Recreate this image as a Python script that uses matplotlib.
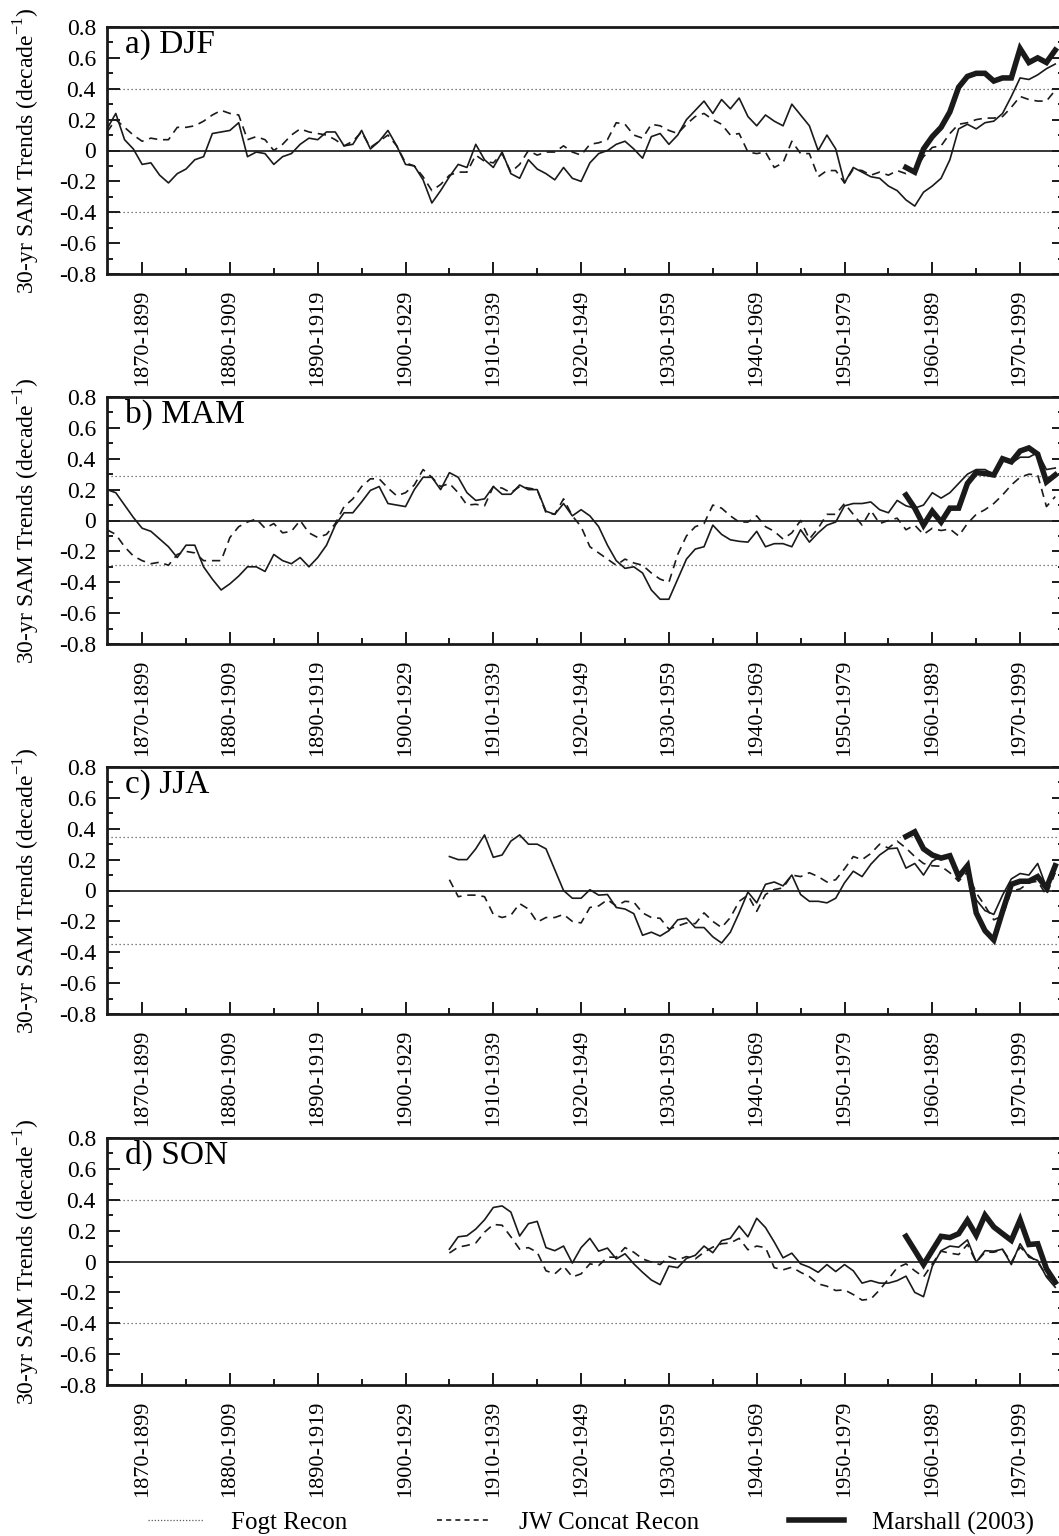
import matplotlib
matplotlib.use('Agg')
import matplotlib.pyplot as plt
from matplotlib.lines import Line2D
from matplotlib.ticker import MultipleLocator

# 30-yr running SAM trends (per decade), x = first year of the 30-yr window
years_long = list(range(1866, 1975))      # DJF, MAM
years_short = list(range(1905, 1975))     # JJA, SON
years_marshall = list(range(1957, 1975))

djf_fogt = [0.14, 0.24, 0.07, 0.01, -0.09, -0.08, -0.16, -0.21, -0.15, -0.12,
            -0.06, -0.04, 0.11, 0.12, 0.13, 0.18, -0.04, -0.01, -0.02, -0.09,
            -0.04, -0.02, 0.04, 0.08, 0.07, 0.12, 0.12, 0.03, 0.04, 0.13,
            0.01, 0.06, 0.13, 0.03, -0.09, -0.10, -0.19, -0.34, -0.26, -0.17,
            -0.09, -0.11, 0.04, -0.06, -0.11, -0.01, -0.15, -0.18, -0.06, -0.12,
            -0.15, -0.19, -0.11, -0.18, -0.20, -0.08, -0.02, 0.00, 0.04, 0.06,
            0.01, -0.05, 0.09, 0.11, 0.04, 0.10, 0.20, 0.26, 0.32, 0.24,
            0.33, 0.27, 0.34, 0.22, 0.16, 0.23, 0.19, 0.16, 0.30, 0.23,
            0.16, 0.00, 0.10, 0.01, -0.21, -0.11, -0.14, -0.17, -0.18, -0.23,
            -0.26, -0.32, -0.36, -0.27, -0.23, -0.18, -0.06, 0.14, 0.17, 0.14,
            0.18, 0.19, 0.24, 0.35, 0.47, 0.46, 0.49, 0.53, 0.56]
djf_jw = [0.12, 0.20, 0.15, 0.10, 0.06, 0.08, 0.07, 0.07, 0.15, 0.15,
          0.16, 0.19, 0.23, 0.26, 0.24, 0.23, 0.07, 0.09, 0.07, 0.00,
          0.04, 0.10, 0.14, 0.12, 0.11, 0.10, 0.07, 0.03, 0.06, 0.12,
          0.02, 0.06, 0.10, 0.03, -0.08, -0.10, -0.17, -0.26, -0.22, -0.16,
          -0.14, -0.14, -0.03, -0.07, -0.08, -0.02, -0.14, -0.09, 0.00, -0.03,
          -0.01, -0.01, 0.03, -0.01, -0.03, 0.04, 0.05, 0.07, 0.18, 0.17,
          0.10, 0.08, 0.17, 0.16, 0.13, 0.11, 0.17, 0.22, 0.24, 0.20,
          0.17, 0.10, 0.11, -0.01, -0.02, -0.01, -0.11, -0.08, 0.06, -0.02,
          -0.02, -0.17, -0.13, -0.13, -0.21, -0.12, -0.13, -0.16, -0.14, -0.16,
          -0.13, -0.15, -0.13, -0.04, 0.02, 0.03, 0.11, 0.17, 0.18, 0.20,
          0.21, 0.21, 0.22, 0.28, 0.35, 0.33, 0.32, 0.32, 0.39]
djf_marshall = [-0.11, -0.14, 0.01, 0.09, 0.15, 0.25, 0.41, 0.48, 0.50, 0.50,
                0.45, 0.47, 0.47, 0.66, 0.57, 0.60, 0.57, 0.65]

mam_fogt = [0.20, 0.18, 0.10, 0.02, -0.05, -0.07, -0.12, -0.17, -0.24, -0.16,
            -0.16, -0.30, -0.38, -0.45, -0.41, -0.36, -0.30, -0.30, -0.33, -0.22,
            -0.26, -0.28, -0.24, -0.30, -0.24, -0.16, -0.03, 0.05, 0.05, 0.12,
            0.195, 0.22, 0.11, 0.10, 0.09, 0.20, 0.28, 0.28, 0.20, 0.31,
            0.28, 0.18, 0.13, 0.14, 0.22, 0.17, 0.17, 0.23, 0.20, 0.20,
            0.06, 0.04, 0.11, 0.03, 0.07, 0.03, -0.04, -0.16, -0.26, -0.31,
            -0.30, -0.34, -0.45, -0.51, -0.51, -0.38, -0.25, -0.185, -0.17, -0.03,
            -0.09, -0.125, -0.135, -0.14, -0.07, -0.17, -0.15, -0.15, -0.17, -0.06,
            -0.14, -0.08, -0.03, -0.01, 0.095, 0.11, 0.11, 0.12, 0.07, 0.05,
            0.13, 0.095, 0.08, 0.10, 0.18, 0.145, 0.18, 0.24, 0.30, 0.33,
            0.33, 0.30, 0.39, 0.37, 0.41, 0.41, 0.44, 0.33, 0.34]
mam_jw = [-0.06, -0.09, -0.17, -0.23, -0.26, -0.28, -0.27, -0.29, -0.22, -0.20,
          -0.21, -0.26, -0.26, -0.26, -0.11, -0.04, -0.01, 0.01, -0.05, -0.02,
          -0.08, -0.07, 0.00, -0.08, -0.11, -0.09, -0.02, 0.09, 0.14, 0.22,
          0.27, 0.27, 0.21, 0.16, 0.18, 0.23, 0.33, 0.28, 0.22, 0.24,
          0.18, 0.10, 0.105, 0.095, 0.22, 0.21, 0.18, 0.22, 0.21, 0.20,
          0.05, 0.04, 0.14, 0.03, -0.04, -0.17, -0.21, -0.25, -0.29, -0.25,
          -0.275, -0.29, -0.34, -0.38, -0.40, -0.22, -0.10, -0.04, -0.02, 0.10,
          0.08, 0.03, -0.01, -0.01, 0.03, -0.04, -0.07, -0.12, -0.08, 0.00,
          -0.12, -0.05, 0.04, 0.04, 0.11, 0.04, -0.03, 0.065, -0.02, 0.00,
          0.015, -0.06, -0.03, -0.09, -0.05, -0.065, -0.055, -0.10, -0.02, 0.04,
          0.07, 0.11, 0.165, 0.23, 0.28, 0.30, 0.295, 0.09, 0.155]
mam_marshall = [0.165, 0.08, -0.03, 0.06, -0.01, 0.08, 0.08, 0.24, 0.31, 0.305,
                0.295, 0.40, 0.38, 0.45, 0.47, 0.43, 0.25, 0.295]

jja_fogt = [0.22, 0.20, 0.20, 0.27, 0.36, 0.215, 0.23, 0.32, 0.36, 0.30,
            0.30, 0.27, 0.135, 0.00, -0.05, -0.05, 0.005, -0.03, -0.026, -0.11,
            -0.12, -0.15, -0.29, -0.27, -0.295, -0.26, -0.19, -0.18, -0.24, -0.24,
            -0.30, -0.34, -0.27, -0.145, -0.01, -0.08, 0.04, 0.055, 0.03, 0.10,
            -0.026, -0.07, -0.07, -0.08, -0.05, 0.05, 0.125, 0.09, 0.17, 0.23,
            0.27, 0.275, 0.145, 0.175, 0.10, 0.19, 0.22, 0.22, 0.10, 0.135,
            -0.06, -0.13, -0.155, -0.03, 0.075, 0.11, 0.10, 0.175, 0.02, 0.135]
jja_jw = [0.07, -0.04, -0.03, -0.03, -0.04, -0.155, -0.175, -0.16, -0.085, -0.12,
          -0.205, -0.175, -0.175, -0.155, -0.20, -0.21, -0.11, -0.10, -0.06, -0.10,
          -0.07, -0.075, -0.145, -0.175, -0.18, -0.25, -0.23, -0.21, -0.215, -0.145,
          -0.20, -0.24, -0.175, -0.07, -0.03, -0.135, -0.026, 0.006, 0.017, 0.10,
          0.09, 0.115, 0.09, 0.055, 0.07, 0.14, 0.22, 0.20, 0.24, 0.30,
          0.275, 0.32, 0.275, 0.22, 0.175, 0.16, 0.157, 0.115, 0.06, 0.12,
          -0.015, -0.10, -0.19, -0.165, -0.004, 0.01, 0.05, 0.06, -0.03, 0.115]
jja_marshall = [0.35, 0.38, 0.27, 0.23, 0.21, 0.225, 0.09, 0.16, -0.145, -0.26,
                -0.32, -0.135, 0.04, 0.06, 0.06, 0.09, 0.017, 0.16]

son_fogt = [0.08, 0.16, 0.167, 0.21, 0.27, 0.35, 0.36, 0.32, 0.165, 0.245,
            0.26, 0.09, 0.07, 0.10, -0.01, 0.09, 0.15, 0.067, 0.087, 0.017,
            0.05, -0.015, -0.07, -0.12, -0.15, -0.03, -0.04, 0.02, 0.04, 0.10,
            0.057, 0.135, 0.15, 0.23, 0.16, 0.28, 0.22, 0.126, 0.024, 0.054,
            -0.015, -0.037, -0.07, -0.02, -0.065, -0.02, -0.06, -0.14, -0.124, -0.14,
            -0.14, -0.124, -0.095, -0.20, -0.228, -0.03, 0.07, 0.10, 0.093, 0.14,
            -0.004, 0.07, 0.067, 0.08, -0.02, 0.115, 0.028, 0.007, -0.10, -0.167]
son_jw = [0.055, 0.093, 0.104, 0.12, 0.19, 0.24, 0.235, 0.16, 0.08, 0.09,
          0.06, -0.06, -0.08, -0.03, -0.10, -0.08, -0.015, -0.026, 0.028, 0.028,
          0.09, 0.06, 0.017, -0.004, -0.02, 0.032, 0.01, 0.032, 0.017, 0.06,
          0.093, 0.115, 0.12, 0.15, 0.076, 0.10, 0.09, -0.04, -0.054, -0.037,
          -0.07, -0.098, -0.145, -0.16, -0.188, -0.184, -0.214, -0.25, -0.243, -0.184,
          -0.113, -0.04, -0.015, -0.06, -0.10, -0.015, 0.067, 0.054, 0.045, 0.11,
          -0.004, 0.06, 0.06, 0.076, -0.004, 0.093, 0.039, -0.004, -0.09, -0.145]
son_marshall = [0.163, 0.072, -0.02, 0.072, 0.163, 0.155, 0.18, 0.267, 0.17, 0.30,
                0.224, 0.18, 0.137, 0.27, 0.11, 0.115, -0.047, -0.134]

# significance levels (dotted lines) per season
significance = [0.40, 0.29, 0.345, 0.40]
panel_names = ['a) DJF', 'b) MAM', 'c) JJA', 'd) SON']

period_ticks = [1870, 1880, 1890, 1900, 1910, 1920, 1930, 1940, 1950, 1960, 1970]
period_labels = ['1870-1899', '1880-1909', '1890-1919', '1900-1929', '1910-1939',
                 '1920-1949', '1930-1959', '1940-1969', '1950-1979', '1960-1989',
                 '1970-1999']
y_ticks = [-0.8, -0.6, -0.4, -0.2, 0, 0.2, 0.4, 0.6, 0.8]
y_labels = ['-0.8', '-0.6', '-0.4', '-0.2', '0', '0.2', '0.4', '0.6', '0.8']

plt.rcParams['font.family'] = 'serif'
plt.rcParams['font.serif'] = ['Liberation Serif', 'DejaVu Serif']
plt.rcParams['mathtext.fontset'] = 'custom'
plt.rcParams['mathtext.rm'] = 'Liberation Serif'
plt.rcParams['axes.unicode_minus'] = False

seasons = [
    (years_long, djf_fogt, djf_jw, djf_marshall),
    (years_long, mam_fogt, mam_jw, mam_marshall),
    (years_short, jja_fogt, jja_jw, jja_marshall),
    (years_short, son_fogt, son_jw, son_marshall),
]

fig = plt.figure(figsize=(10.59, 15.36), dpi=100)
W, H = 1059.0, 1536.0
tops = [27, 397, 767, 1138]   # pixel top of each panel
ph = 247

for i in range(4):
    yrs, fogt, jw, marsh = seasons[i]
    # axes run a bit past the right edge of the figure (cropped like the original)
    ax = fig.add_axes([107 / W, 1 - (tops[i] + ph) / H, 957 / W, ph / H])

    ax.axhline(0, color='black', lw=1.1, zorder=1)
    ax.axhline(significance[i], color='0.35', lw=0.9, ls=(0, (1, 2.2)), zorder=1)
    ax.axhline(-significance[i], color='0.35', lw=0.9, ls=(0, (1, 2.2)), zorder=1)

    ax.plot(yrs, fogt, color='0.1', lw=1.2, zorder=3)
    ax.plot(yrs, jw, color='0.1', lw=1.2, ls=(0, (5, 3.5)), zorder=3)
    ax.plot(years_marshall, marsh, color='0.1', lw=4.0, zorder=4,
            solid_joinstyle='miter')

    ax.set_xlim(1866, 1975)
    ax.set_ylim(-0.8, 0.8)
    ax.set_yticks(y_ticks)
    ax.set_yticklabels(y_labels, fontsize=17)
    ax.yaxis.set_minor_locator(MultipleLocator(0.1))
    ax.set_xticks(period_ticks)
    ax.set_xticklabels(period_labels, rotation=90, fontsize=16)
    ax.xaxis.set_minor_locator(MultipleLocator(5))

    ax.tick_params(which='both', direction='in', left=True, right=True,
                   top=False, bottom=True, width=1.4, color='0.1')
    ax.tick_params(which='major', length=9)
    ax.tick_params(which='minor', length=4.5)
    ax.tick_params(axis='y', pad=8)
    ax.tick_params(axis='x', pad=11)
    for sp in ax.spines.values():
        sp.set_linewidth(2.0)
        sp.set_color('0.1')

    ax.set_ylabel('30-yr SAM Trends (decade$^{\\mathregular{-1}}$)', fontsize=17)
    ax.yaxis.set_label_coords(-0.068, 0.5)
    ax.text(0.019, 0.894, panel_names[i], transform=ax.transAxes, fontsize=24,
            va='baseline', ha='left')

handles = [Line2D([], [], color='0.35', lw=0.9, ls=(0, (1, 1.5))),
           Line2D([], [], color='0.1', lw=1.2, ls=(0, (3, 2.5))),
           Line2D([], [], color='0.1', lw=4.0)]
fig.legend(handles, ['Fogt Recon', 'JW Concat Recon', 'Marshall (2003)'],
           ncol=3, loc='center', bbox_to_anchor=(591 / W, 1 - 1523 / H),
           frameon=False, fontsize=18, handlelength=2.2, handletextpad=1.1,
           columnspacing=3.6)

fig.savefig('out.png', dpi=100)
